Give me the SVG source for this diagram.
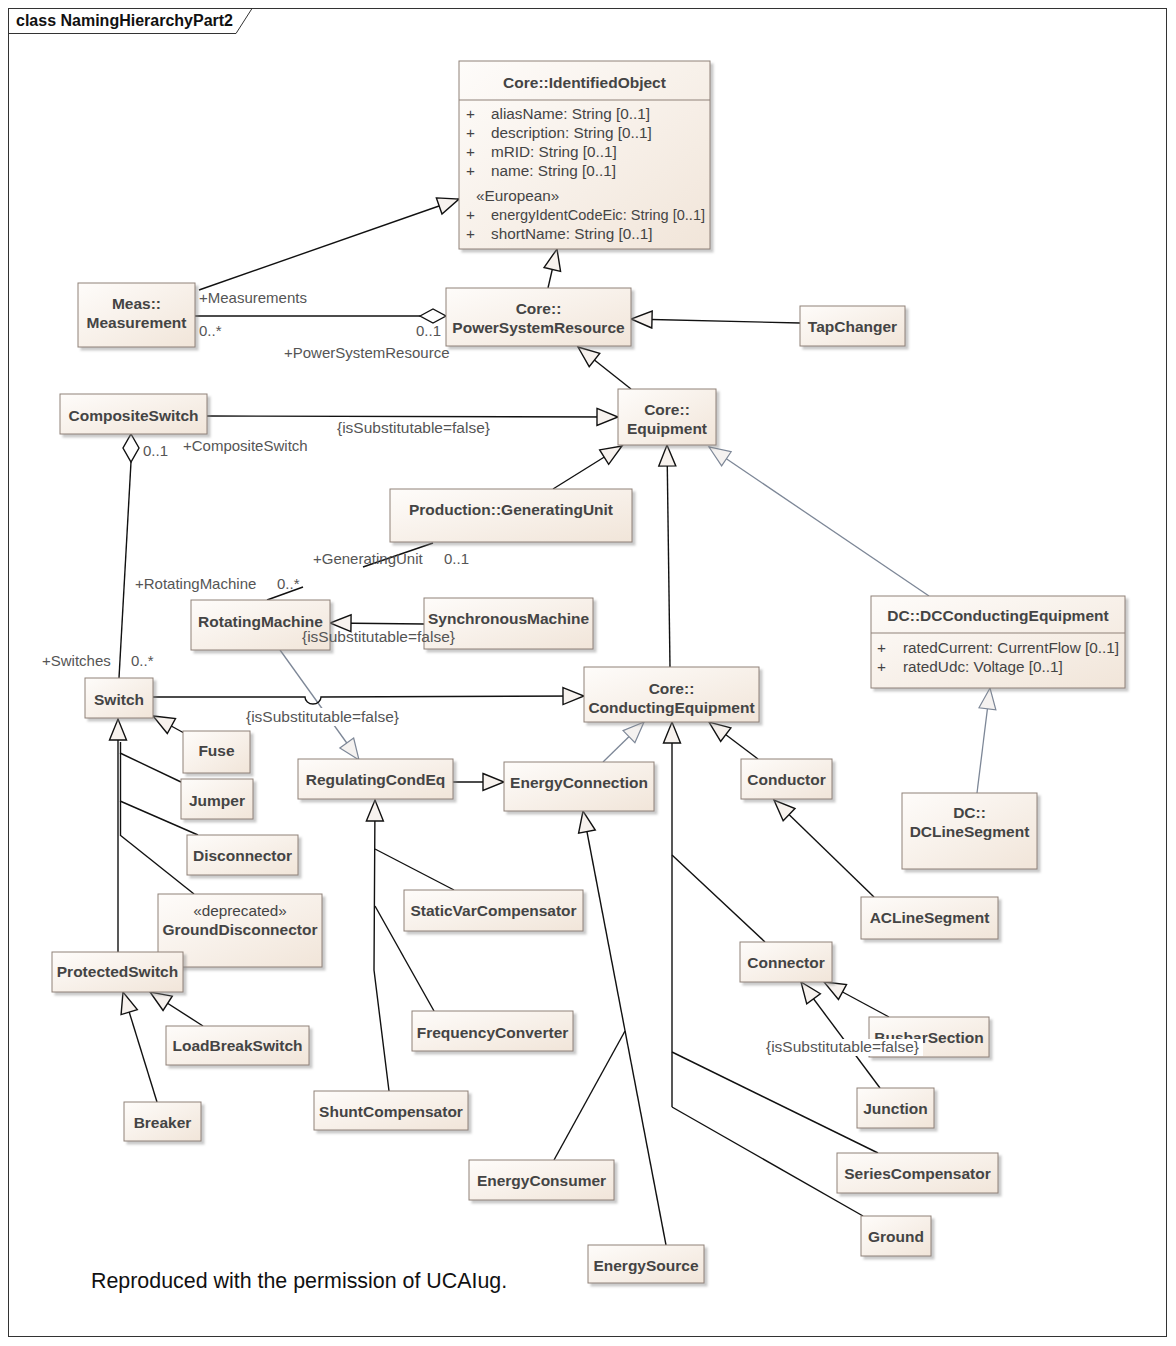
<svg xmlns="http://www.w3.org/2000/svg" width="1176" height="1346" viewBox="0 0 1176 1346">
<defs>
<linearGradient id="gr" x1="0" y1="0" x2="1" y2="1">
<stop offset="0" stop-color="#fefcfa"/>
<stop offset="1" stop-color="#f1e5d9"/>
</linearGradient>
<filter id="sh" x="-10%" y="-10%" width="130%" height="140%">
<feDropShadow dx="3" dy="3" stdDeviation="1.2" flood-color="#888" flood-opacity="0.45"/>
</filter>
<marker id="gen" markerUnits="userSpaceOnUse" viewBox="0 0 21 17" markerWidth="21" markerHeight="17" refX="21" refY="8.5" orient="auto" overflow="visible">
<path d="M0,0 L21,8.5 L0,17 Z" fill="#f7f2ee" stroke="#111" stroke-width="1.4" stroke-linejoin="miter"/>
</marker>
<marker id="genG" markerUnits="userSpaceOnUse" viewBox="0 0 21 17" markerWidth="21" markerHeight="17" refX="21" refY="8.5" orient="auto" overflow="visible">
<path d="M0,0 L21,8.5 L0,17 Z" fill="#f5f2f0" stroke="#7d8797" stroke-width="1.2"/>
</marker>
<style>
.box{fill:url(#gr);stroke:#8f8178;stroke-width:1;filter:url(#sh)}
.n{font-family:"Liberation Sans",Arial,sans-serif;font-weight:bold;font-size:15.5px;fill:#444;text-anchor:middle}
.a{font-family:"Liberation Sans",Arial,sans-serif;font-size:15.3px;fill:#444}
.l{font-family:"Liberation Sans",Arial,sans-serif;font-size:15px;fill:#555}
.s{font-family:"Liberation Sans",Arial,sans-serif;font-size:15.5px;fill:#555}
.c{fill:none;stroke:#111;stroke-width:1.4}
.g{fill:none;stroke:#7d8797;stroke-width:1.3}
.dv{stroke:#8f8178;stroke-width:1}
</style>
</defs>
<rect x="0" y="0" width="1176" height="1346" fill="#fff"/>
<g id="frame">
<rect x="8.5" y="8.5" width="1158" height="1328" fill="none" stroke="#333" stroke-width="1"/>
<polyline points="8.5,33.5 236,33.5 252,8.5" fill="none" stroke="#333" stroke-width="1"/>
<text x="16" y="26" style="font-family:'Liberation Sans',Arial,sans-serif;font-weight:bold;font-size:16px;fill:#111">class NamingHierarchyPart2</text>
</g>
<g id="connectors">
<path class="c" d="M199,290 L459,199" marker-end="url(#gen)"/>
<path class="c" d="M548,288 L557,249" marker-end="url(#gen)"/>
<path class="c" d="M800,323 L631,319" marker-end="url(#gen)"/>
<path class="c" d="M631,389 L578,347" marker-end="url(#gen)"/>
<path class="c" d="M195,316 L420,316"/>
<polygon points="420,316 433,309 446,316 433,323" fill="#fff" stroke="#111" stroke-width="1.4"/>
<path class="c" d="M207,416 L618,417" marker-end="url(#gen)"/>
<path class="c" d="M553,489 L622,446" marker-end="url(#gen)"/>
<path class="c" d="M670,667 L667,445" marker-end="url(#gen)"/>
<path class="g" d="M929,596 L709,447" marker-end="url(#genG)"/>
<polygon points="131,434 139,448 131,462 123,448" fill="#fff" stroke="#111" stroke-width="1.4"/>
<path class="c" d="M131,462 L119,678"/>
<path class="c" d="M433,543 L363,567"/>
<path class="c" d="M303,587 L267,600"/>
<path class="c" d="M424,624 L330,623" marker-end="url(#gen)"/>
<path class="g" d="M280,650 L359,760" marker-end="url(#genG)"/>
<path class="c" d="M153,697 L305,697 A8,7 0 0 0 321,697 L584,696" marker-end="url(#gen)"/>
<path class="c" d="M184,733 L153,716" marker-end="url(#gen)"/>
<path class="c" d="M118,952 L118,719" marker-end="url(#gen)"/>
<path class="c" d="M120.5,742 L120.5,835"/>
<path class="c" d="M120,753 L181,782"/>
<path class="c" d="M120,801 L198,835"/>
<path class="c" d="M120,835 L194,894"/>
<path class="c" d="M203,1026 L150,992" marker-end="url(#gen)"/>
<path class="c" d="M157,1102 L123,992" marker-end="url(#gen)"/>
<path class="c" d="M453,782 L504,782" marker-end="url(#gen)"/>
<path class="c" d="M389,1091 L374,970 L375,800" marker-end="url(#gen)"/>
<path class="c" d="M375,849 L454,890"/>
<path class="c" d="M375,906 L434,1011"/>
<path class="g" d="M603,762 L644,722" marker-end="url(#genG)"/>
<path class="c" d="M666,1245 L583,811" marker-end="url(#gen)"/>
<path class="c" d="M625,1031 L554,1160"/>
<path class="c" d="M758,759 L709,722" marker-end="url(#gen)"/>
<path class="c" d="M874,897 L774,800" marker-end="url(#gen)"/>
<path class="g" d="M977,793 L990,688" marker-end="url(#genG)"/>
<path class="c" d="M672,1107 L672,722" marker-end="url(#gen)"/>
<path class="c" d="M672,855 L765,942"/>
<path class="c" d="M672,1052 L878,1153"/>
<path class="c" d="M672,1107 L863,1216"/>
<path class="c" d="M889,1017 L824,982" marker-end="url(#gen)"/>
<path class="c" d="M880,1088 L801,982" marker-end="url(#gen)"/>
</g>
<g id="IdentifiedObject">
<rect class="box" x="459" y="61" width="251" height="188"/>
<line class="dv" x1="459" y1="100" x2="710" y2="100"/>
<text class="n" x="584.5" y="88">Core::IdentifiedObject</text>
<text class="a" x="466" y="119">+</text><text class="a" x="491" y="119">aliasName: String [0..1]</text>
<text class="a" x="466" y="138">+</text><text class="a" x="491" y="138">description: String [0..1]</text>
<text class="a" x="466" y="157">+</text><text class="a" x="491" y="157">mRID: String [0..1]</text>
<text class="a" x="466" y="176">+</text><text class="a" x="491" y="176">name: String [0..1]</text>
<text class="a" x="476" y="201">«European»</text>
<text class="a" x="466" y="220">+</text><text class="a" x="491" y="220" textLength="214" lengthAdjust="spacingAndGlyphs">energyIdentCodeEic: String [0..1]</text>
<text class="a" x="466" y="239">+</text><text class="a" x="491" y="239">shortName: String [0..1]</text>
</g>
<g id="Measurement">
<rect class="box" x="78" y="283" width="117" height="64"/>
<text class="n" x="136.5" y="309">Meas::</text>
<text class="n" x="136.5" y="328">Measurement</text>
</g>
<g id="PowerSystemResource">
<rect class="box" x="446" y="288" width="185" height="58"/>
<text class="n" x="538.5" y="314">Core::</text>
<text class="n" x="538.5" y="333">PowerSystemResource</text>
</g>
<g id="TapChanger">
<rect class="box" x="800" y="306" width="105" height="40"/>
<text class="n" x="852.5" y="332">TapChanger</text>
</g>
<g id="CompositeSwitch">
<rect class="box" x="60" y="394" width="147" height="40"/>
<text class="n" x="133.5" y="421">CompositeSwitch</text>
</g>
<g id="Equipment">
<rect class="box" x="618" y="389" width="98" height="56"/>
<text class="n" x="667" y="415">Core::</text>
<text class="n" x="667" y="434">Equipment</text>
</g>
<g id="GeneratingUnit">
<rect class="box" x="390" y="489" width="242" height="53"/>
<text class="n" x="511" y="515">Production::GeneratingUnit</text>
</g>
<g id="RotatingMachine">
<rect class="box" x="191" y="600" width="139" height="50"/>
<text class="n" x="260.5" y="627">RotatingMachine</text>
</g>
<g id="SynchronousMachine">
<rect class="box" x="424" y="598" width="169" height="51"/>
<text class="n" x="508.5" y="624">SynchronousMachine</text>
</g>
<g id="DCConductingEquipment">
<rect class="box" x="871" y="596" width="254" height="92"/>
<line class="dv" x1="871" y1="633" x2="1125" y2="633"/>
<text class="n" x="998" y="621">DC::DCConductingEquipment</text>
<text class="a" x="877" y="653">+</text><text class="a" x="903" y="653">ratedCurrent: CurrentFlow [0..1]</text>
<text class="a" x="877" y="672">+</text><text class="a" x="903" y="672">ratedUdc: Voltage [0..1]</text>
</g>
<g id="Switch">
<rect class="box" x="85" y="678" width="68" height="40"/>
<text class="n" x="119" y="705">Switch</text>
</g>
<g id="ConductingEquipment">
<rect class="box" x="584" y="667" width="175" height="55"/>
<text class="n" x="671.5" y="694">Core::</text>
<text class="n" x="671.5" y="713">ConductingEquipment</text>
</g>
<g id="Fuse">
<rect class="box" x="183" y="731" width="67" height="42"/>
<text class="n" x="216.5" y="756">Fuse</text>
</g>
<g id="Jumper">
<rect class="box" x="181" y="779" width="72" height="40"/>
<text class="n" x="217" y="806">Jumper</text>
</g>
<g id="RegulatingCondEq">
<rect class="box" x="298" y="759" width="155" height="40"/>
<text class="n" x="375.5" y="785">RegulatingCondEq</text>
</g>
<g id="EnergyConnection">
<rect class="box" x="504" y="762" width="150" height="49"/>
<text class="n" x="579" y="788">EnergyConnection</text>
</g>
<g id="Conductor">
<rect class="box" x="741" y="759" width="91" height="40"/>
<text class="n" x="786.5" y="785">Conductor</text>
</g>
<g id="DCLineSegment">
<rect class="box" x="902" y="793" width="135" height="76"/>
<text class="n" x="969.5" y="818">DC::</text>
<text class="n" x="969.5" y="837">DCLineSegment</text>
</g>
<g id="Disconnector">
<rect class="box" x="187" y="835" width="111" height="40"/>
<text class="n" x="242.5" y="861">Disconnector</text>
</g>
<g id="StaticVarCompensator">
<rect class="box" x="404" y="890" width="179" height="41"/>
<text class="n" x="493.5" y="916">StaticVarCompensator</text>
</g>
<g id="ACLineSegment">
<rect class="box" x="861" y="897" width="137" height="42"/>
<text class="n" x="929.5" y="923">ACLineSegment</text>
</g>
<g id="GroundDisconnector">
<rect class="box" x="158" y="894" width="164" height="73"/>
<text class="a" x="240" y="916" text-anchor="middle">«deprecated»</text>
<text class="n" x="240" y="935">GroundDisconnector</text>
</g>
<g id="ProtectedSwitch">
<rect class="box" x="52" y="952" width="131" height="40"/>
<text class="n" x="117.5" y="977">ProtectedSwitch</text>
</g>
<g id="Connector">
<rect class="box" x="740" y="942" width="92" height="40"/>
<text class="n" x="786" y="968">Connector</text>
</g>
<g id="FrequencyConverter">
<rect class="box" x="412" y="1011" width="161" height="40"/>
<text class="n" x="492.5" y="1038">FrequencyConverter</text>
</g>
<g id="BusbarSection">
<rect class="box" x="869" y="1017" width="120" height="40"/>
<text class="n" x="929" y="1043">BusbarSection</text>
</g>
<g id="LoadBreakSwitch">
<rect class="box" x="166" y="1026" width="143" height="39"/>
<text class="n" x="237.5" y="1051">LoadBreakSwitch</text>
</g>
<g id="Junction">
<rect class="box" x="857" y="1088" width="77" height="40"/>
<text class="n" x="895.5" y="1114">Junction</text>
</g>
<g id="ShuntCompensator">
<rect class="box" x="314" y="1091" width="154" height="39"/>
<text class="n" x="391" y="1117">ShuntCompensator</text>
</g>
<g id="Breaker">
<rect class="box" x="124" y="1102" width="77" height="39"/>
<text class="n" x="162.5" y="1128">Breaker</text>
</g>
<g id="SeriesCompensator">
<rect class="box" x="837" y="1153" width="161" height="40"/>
<text class="n" x="917.5" y="1179">SeriesCompensator</text>
</g>
<g id="EnergyConsumer">
<rect class="box" x="469" y="1160" width="145" height="40"/>
<text class="n" x="541.5" y="1186">EnergyConsumer</text>
</g>
<g id="Ground">
<rect class="box" x="861" y="1216" width="70" height="40"/>
<text class="n" x="896" y="1242">Ground</text>
</g>
<g id="EnergySource">
<rect class="box" x="588" y="1245" width="116" height="38"/>
<text class="n" x="646" y="1271">EnergySource</text>
</g>
<g id="labels">
<text class="l" x="199" y="303">+Measurements</text>
<text class="l" x="199" y="336">0..*</text>
<text class="l" x="416" y="336">0..1</text>
<text class="l" x="284" y="358">+PowerSystemResource</text>
<text class="s" x="337" y="433">{isSubstitutable=false}</text>
<text class="l" x="143" y="456">0..1</text>
<text class="l" x="183" y="451">+CompositeSwitch</text>
<text class="l" x="313" y="564">+GeneratingUnit</text>
<text class="l" x="444" y="564">0..1</text>
<text class="l" x="135" y="589">+RotatingMachine</text>
<text class="l" x="277" y="589">0..*</text>
<text class="s" x="302" y="642">{isSubstitutable=false}</text>
<text class="l" x="42" y="666">+Switches</text>
<text class="l" x="131" y="666">0..*</text>
<rect x="245" y="708" width="158" height="18" fill="#fff"/>
<text class="s" x="246" y="722">{isSubstitutable=false}</text>
<rect x="765" y="1039" width="158" height="17" fill="#fff"/>
<text class="s" x="766" y="1052">{isSubstitutable=false}</text>
</g>
<text x="91" y="1288" style="font-family:'Liberation Sans',Arial,sans-serif;font-size:21.4px;fill:#111">Reproduced with the permission of UCAIug.</text>
</svg>
